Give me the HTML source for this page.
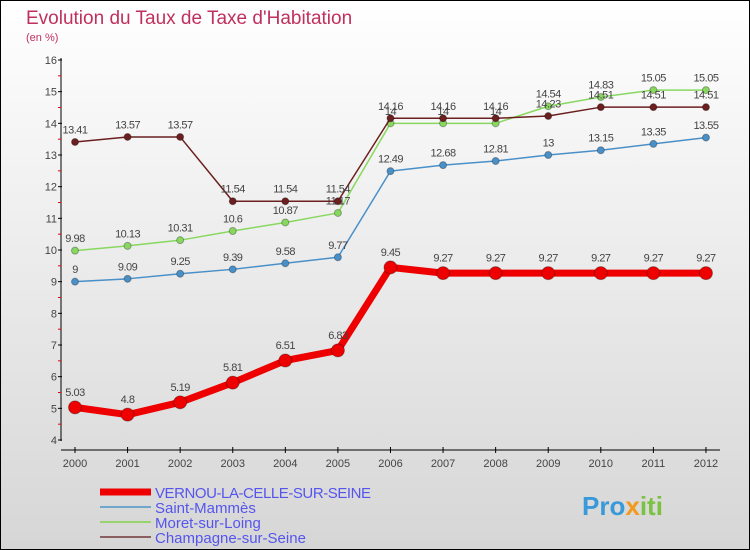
<!DOCTYPE html>
<html><head><meta charset="utf-8"><style>
body{margin:0;width:750px;height:550px;overflow:hidden}
svg{display:block;font-family:"Liberation Sans",sans-serif}
</style></head><body>
<svg id="c" width="750" height="550" xmlns="http://www.w3.org/2000/svg">
<defs><linearGradient id="bg" x1="0" y1="0" x2="0" y2="1"><stop offset="0" stop-color="#ffffff"/><stop offset="1" stop-color="#d6d6d6"/></linearGradient></defs>
<rect x="0.5" y="0.5" width="749" height="549" fill="url(#bg)" stroke="#000"/>
<text x="26" y="24" font-size="19" fill="#c0305e">Evolution du Taux de Taxe d'Habitation</text>
<text x="26" y="41" font-size="11" fill="#c0305e">(en %)</text>
<g id="axes"></g><g id="series"></g>
<g font-size="15" fill="#5555ee">
<line x1="100" y1="492" x2="151" y2="492" stroke="#e00" stroke-width="7"/>
<text x="155" y="498" textLength="216">VERNOU-LA-CELLE-SUR-SEINE</text>
<line x1="100" y1="507" x2="151" y2="507" stroke="#6fa6cc" stroke-width="2"/>
<text x="155" y="513">Saint-Mammès</text>
<line x1="100" y1="522" x2="151" y2="522" stroke="#99d36e" stroke-width="2"/>
<text x="155" y="528">Moret-sur-Loing</text>
<line x1="100" y1="537" x2="151" y2="537" stroke="#8b5f5f" stroke-width="2"/>
<text x="155" y="543">Champagne-sur-Seine</text>
</g>
<text x="582" y="515" font-size="26" font-weight="bold" fill="#3a9ad9">Pro<tspan fill="#f29a1d">x</tspan><tspan fill="#7bc142">iti</tspan></text>
</svg>
<script>
const years=[2000,2001,2002,2003,2004,2005,2006,2007,2008,2009,2010,2011,2012];
const yTicks=[4,5,6,7,8,9,10,11,12,13,14,15,16];
const vernou=[5.03,4.8,5.19,5.81,6.51,6.83,9.45,9.27,9.27,9.27,9.27,9.27,9.27];
const saintMammes=[9,9.09,9.25,9.39,9.58,9.77,12.49,12.68,12.81,13,13.15,13.35,13.55];
const moret=[9.98,10.13,10.31,10.6,10.87,11.17,14,14,14,14.54,14.83,15.05,15.05];
const champagne=[13.41,13.57,13.57,11.54,11.54,11.54,14.16,14.16,14.16,14.23,14.51,14.51,14.51];
const NS='http://www.w3.org/2000/svg';
const X=i=>75+i*52.58, Y=v=>440-(v-4)*31.667;
function mk(t,a,p){const e=document.createElementNS(NS,t);for(const k in a)e.setAttribute(k,a[k]);p.appendChild(e);return e;}
const ax=document.getElementById('axes'), sg=document.getElementById('series');
let l=mk('line',{x1:61,y1:58,x2:61,y2:441,stroke:'#000'},ax);


l=mk('line',{x1:61,y1:450,x2:720,y2:450,stroke:'#000'},ax);


yTicks.forEach((v,i)=>{
 mk('line',{x1:58,y1:Y(v),x2:62,y2:Y(v),stroke:'#000'},ax);
 if(i<yTicks.length-1)mk('line',{x1:58,y1:Y(v+0.5),x2:61,y2:Y(v+0.5),stroke:'#e00'},ax);
 const t=mk('text',{x:57,y:Y(v)+4,'font-size':11,fill:'#444','text-anchor':'end'},ax);t.textContent=v;
 
 
});
years.forEach((y,i)=>{
 mk('line',{x1:X(i),y1:447,x2:X(i),y2:453,stroke:'#000'},ax);
 const t=mk('text',{x:X(i),y:467,'font-size':11,fill:'#444','text-anchor':'middle'},ax);t.textContent=y;
 
 
});
function series(d,col,w,r,name){
 const p=mk('polyline',{points:d.map((v,i)=>X(i)+','+Y(v)).join(' '),fill:'none',stroke:col,'stroke-width':w,'stroke-linejoin':'round'},sg);
 
 
 d.forEach((v,i)=>{
  const c=mk('circle',{cx:X(i),cy:Y(v),r:r,fill:col,stroke:'rgba(0,0,0,0.3)'},sg);
  
  
  const t=mk('text',{x:X(i),y:Y(v)-(r+5),'font-size':11,fill:'#444','text-anchor':'middle','letter-spacing':'-0.5'},sg);t.textContent=v;
  
  
 });
}
series(saintMammes,'#4a90c8',1.5,3.5,'saint-mammes');
series(moret,'#88d860',1.5,3.5,'moret');
series(champagne,'#6b1f1f',1.5,3.5,'champagne');
series(vernou,'#ee0000',7,6.5,'vernou');
</script>
</body></html>
